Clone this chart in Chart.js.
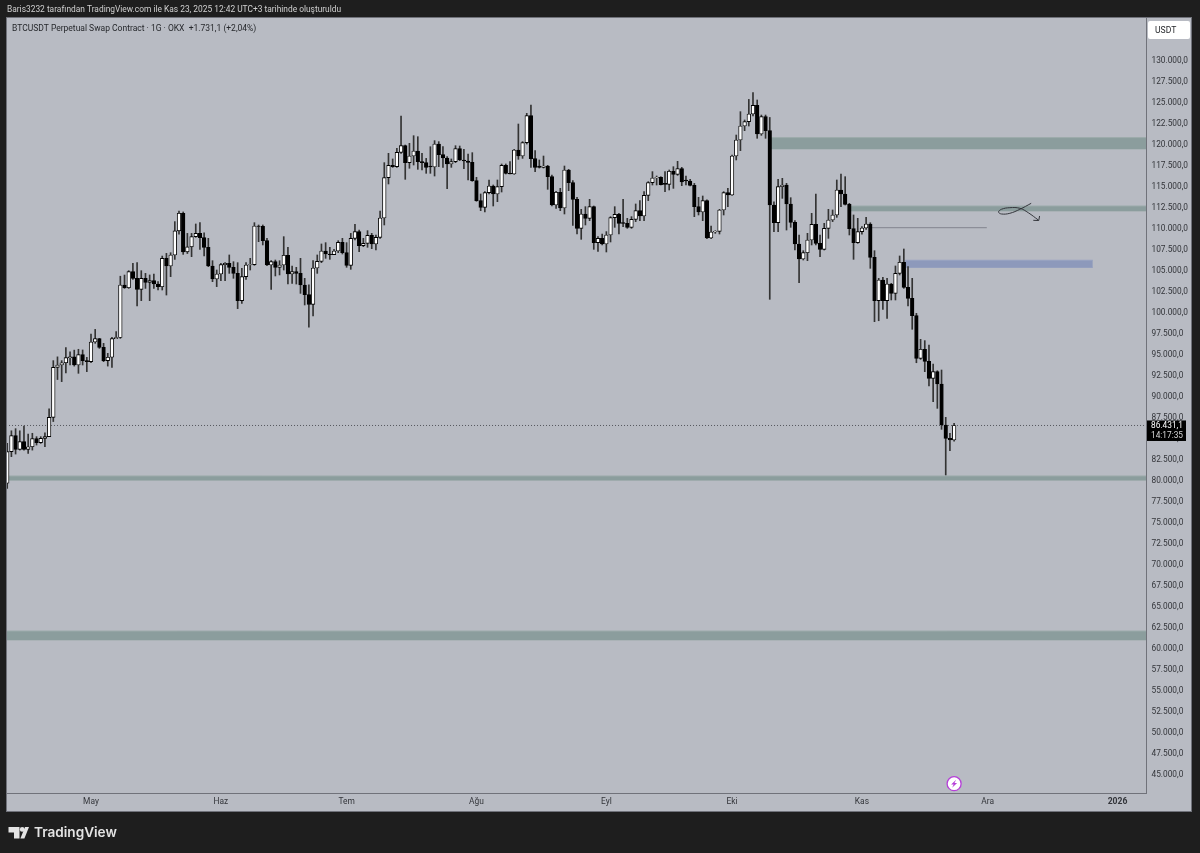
<!DOCTYPE html>
<html>
<head>
<meta charset="utf-8">
<title>BTCUSDT</title>
<script src="https://cdn.jsdelivr.net/npm/chart.js@4/dist/chart.umd.min.js"></script>
<style>
  html, body { margin: 0; padding: 0; background: #1e1e1e; overflow: hidden; }
  canvas { display: block; }
</style>
</head>
<body>
<canvas id="Chart" width="1200" height="853"></canvas>
<script>
// daily candles, first one is 20 days before May 1
const firstDay = -20;
const opens = [
  79550,83310,85220,83590,84500,83590,83900,84860,84385,84900,
  85100,87400,93350,93630,93900,94500,94600,93630,94860,94150,
  94030,96370,96770,95730,94150,94550,96770,96900,103150,102830,
  104740,103950,102640,103950,103470,103670,103270,102950,106330,105420,
  106725,109600,111700,107100,107700,108910,109300,108790,107640,105420,
  103870,104465,105575,105730,105260,104540,101290,104150,105540,105575,
  110180,110140,108430,105540,105930,105260,105540,106690,104465,104740,
  104540,103150,102000,100850,105180,105975,107200,106845,106765,107200,
  108235,107000,105500,108710,109505,107840,108115,109070,108040,108830,
  111130,115930,117400,117240,118950,119740,117720,118510,119110,117840,
  117720,117300,117200,119940,118670,118270,117560,117840,119385,118035,
  117920,117760,115575,113200,112400,114150,114940,113990,114860,117400,
  116450,116370,119225,118510,120100,123310,118200,117320,117160,117320,
  116050,112680,114190,112320,116845,115340,113355,109900,111610,111090,
  112480,108195,108710,108040,109110,111170,111570,110580,110500,110020,
  110975,112000,111370,113830,115340,115890,115970,115260,115140,116690,
  116330,117000,115655,115535,115020,112480,111850,113200,108750,109465,
  109545,112085,114150,113870,118510,120415,122080,122600,123510,124540,
  121130,123200,121530,112680,110575,114860,115060,112800,110615,108035,
  106250,107000,108510,110380,108115,107400,109900,110890,111490,114465,
  113990,112760,109860,108195,109505,109940,110415,106450,101290,103750,
  101290,103270,102160,104540,105860,102880,101570,99500,94425,95500,
  94070,92045,92835,91370,86490,84900,84700
];
const closes = [
  83310,85220,83590,84500,83590,83900,84860,84385,84900,85100,
  87400,93350,93630,93900,94500,94600,93630,94860,94150,94030,
  96370,96770,95730,94150,94550,96770,96900,103150,102830,104740,
  103950,102640,103950,103470,103670,103270,102950,106330,105420,106725,
  109600,111700,107100,107700,108910,109300,108790,107640,105420,103870,
  104465,105575,105730,105260,104540,101290,104150,105540,105575,110180,
  110140,108430,105540,105930,105260,105540,106690,104465,104740,104540,
  103150,102000,100850,105180,105975,107200,106845,106765,107200,108235,
  107000,105500,108710,109505,107840,108115,109070,108040,108830,111130,
  115930,117400,117240,118950,119740,117720,118510,119110,117840,117720,
  117160,117200,119940,118670,118270,117560,117840,119385,118035,117920,
  117760,115575,113200,112400,114150,114940,113990,114860,117400,116450,
  116370,119225,118510,120100,123310,118200,117160,117160,117320,116050,
  112680,114190,112320,116845,115340,113355,109900,111610,111090,112480,
  108195,108710,108040,109110,111170,111570,110500,110500,110020,110975,
  112000,111370,113830,115340,115890,115970,115100,115140,116690,116330,
  117000,115420,115535,115020,112480,111850,113200,108750,109465,109545,
  112085,114150,113870,118510,120415,122080,122600,123510,124540,121130,
  123200,121530,112680,110575,114860,115060,112800,110615,108035,106250,
  107000,108510,110380,108115,107400,109900,110890,111490,114465,113990,
  112760,109860,108195,109505,109940,110415,106450,101290,103750,101290,
  103270,102160,104540,105860,102880,101570,99500,94425,95500,94070,
  92045,92835,91370,86490,84900,84700,86431.1
];
const highs = [
  84300,85800,86050,85800,86370,85420,85500,85100,85100,85570,
  88400,94150,94600,94150,95700,95200,95400,95500,95420,94540,
  97320,97870,96800,96210,95020,96920,97600,104200,104340,104860,
  105730,105813,104860,104540,104350,104460,103550,106600,106920,107000,
  110700,111950,111850,109300,109300,110420,110575,109380,108710,106050,
  104940,105730,105815,106730,105930,105815,105140,105815,106330,110575,
  110300,110300,108700,106050,106130,106050,108910,107640,105420,105260,
  106330,103950,103160,106050,106730,108040,108195,107640,107400,108430,
  108710,108195,109300,110380,109700,108710,109625,109305,109110,111960,
  117720,118830,118160,119430,123270,119820,120020,120930,120810,118830,
  118230,119620,120340,120220,119620,118430,118160,119740,119700,119310,
  118750,118910,115970,113990,114265,115655,115060,115655,117560,117560,
  117840,119300,122320,120220,123590,124580,119150,118040,118510,117400,
  116250,114310,114660,117320,116925,115580,113590,112160,112480,113355,
  112560,108910,109225,109510,111290,112480,111690,113355,111090,111290,
  112800,113200,114265,115460,116650,116130,116050,116650,116845,117240,
  117880,117160,116130,115735,115250,113590,113750,113280,110180,109625,
  112160,114265,114660,118630,121010,123790,122800,125250,126050,125180,
  123390,123390,123100,113070,115735,115855,115260,113550,110810,109110,
  107240,109305,111690,113990,109110,110500,112160,112085,115655,116370,
  116050,112880,111490,111090,110100,111210,110570,107240,103950,104070,
  103950,103350,105420,106610,107440,105340,103950,99780,96690,96530,
  96010,93750,92950,93035,87400,85500,86690
];
const lows = [
  78950,82720,83030,83500,83500,83115,83500,84100,84300,83900,
  85100,86900,91900,91650,92700,93630,93500,92640,93630,92840,
  93900,96210,95610,94030,93500,93350,96770,96800,102750,102750,
  103830,100650,101290,102750,101290,102760,102560,102560,101960,104150,
  106200,109200,106800,106900,106530,108830,107400,106610,105340,103550,
  102960,103670,103670,104540,103950,100340,100970,103830,104940,105500,
  108310,107920,105460,102640,104230,104350,104940,103270,103350,103270,
  102160,100775,98120,99465,104540,105815,106330,106210,106765,107000,
  106845,105260,105020,108510,107125,107720,107640,107480,107320,108700,
  110300,115180,117160,117160,118830,115735,117050,117440,116925,116850,
  116450,116450,116130,117240,117160,114620,117160,117720,117960,117000,
  115655,115500,113120,112000,111850,113990,112560,113075,114225,116370,
  116370,116330,118115,118230,119940,117160,116650,117080,117080,114545,
  112560,112280,112000,111610,114385,110260,109225,108590,110300,110815,
  107400,107165,107920,107085,108275,110020,109225,110100,109900,109900,
  110700,110815,110815,113200,115060,115060,115060,114265,114465,114660,
  116210,114980,115060,114940,111290,111490,110815,108670,108670,109300,
  109225,111490,112480,113830,118040,119150,121530,122080,123280,120620,
  120970,120620,101450,109505,109505,113470,109700,110020,107320,103435,
  106130,106050,107920,107920,106530,107320,108710,110700,111210,112480,
  112680,109110,106210,108115,109220,109770,105140,98790,98900,100260,
  99180,101370,101370,104350,102760,100650,97880,93900,94300,92835,
  91130,89265,88470,85970,80540,83430,84550
];

// axis ticks
const monthDays = [0, 31, 61, 92, 123, 153, 184, 214, 245];
const monthLabels = ['May', 'Haz', 'Tem', 'Ağu', 'Eyl', 'Eki', 'Kas', 'Ara', '2026'];
const priceTicks = [130000,127500,125000,122500,120000,117500,115000,112500,110000,107500,105000,102500,100000,97500,95000,92500,90000,87500,85000,82500,80000,77500,75000,72500,70000,67500,65000,62500,60000,57500,55000,52500,50000,47500,45000];
const priceLabels = ['130.000,0','127.500,0','125.000,0','122.500,0','120.000,0','117.500,0','115.000,0','112.500,0','110.000,0','107.500,0','105.000,0','102.500,0','100.000,0','97.500,0','95.000,0','92.500,0','90.000,0','87.500,0','85.000,0','82.500,0','80.000,0','77.500,0','75.000,0','72.500,0','70.000,0','67.500,0','65.000,0','62.500,0','60.000,0','57.500,0','55.000,0','52.500,0','50.000,0','47.500,0','45.000,0'];
const dayMin = -20.05, dayMax = 251.8;
const priceMin = 42677, priceMax = 134941;

// drawn zones: start day, end day, top price, bottom price
const zoneStarts = [162, 181.4, 194.3, -21, -21];
const zoneEnds   = [252, 252, 239.1, 252, 252];
const zoneTops   = [120700, 112560, 106100, 80420, 61960];
const zoneBottoms = [119350, 111960, 105250, 79920, 60890];
const zoneColors = ['#8b9d9d', '#8b9d9d', '#8d99bb', '#8b9d9d', '#8b9d9d'];

// thin resistance line
const lineDays = [186.4, 213.8];
const linePrices = [109976, 109976];

// hand drawn scribble and arrow head
const scribbleDays = [224.4, 221.7, 219.3, 217.3, 216.6, 217.3, 219.3, 221.7, 223.7, 226.1];
const scribblePrices = [112880, 112170, 111690, 111610, 111845, 112170, 112360, 112285, 111760, 110890];
const arrowDays = [224.9, 226.2, 226.4];
const arrowPrices = [110855, 110830, 111370];

const lastPrice = 86431.1;
const lastPriceText = '86.431,1';
const countdownText = '14:17:35';
const headerText = 'Baris3232 tarafından TradingView.com ile Kas 23, 2025 12:42 UTC+3 tarihinde oluşturuldu';
const titleText = 'BTCUSDT Perpetual Swap Contract · 1G · OKX  +1.731,1 (+2,04%)';

const panelColor = '#b8bbc3';
const fontName = 'Roboto, "Liberation Sans", sans-serif';

const bodies = opens.map((o, i) => ({ x: firstDay + i, y: [o, closes[i]] }));
const wicks = lows.map((l, i) => ({ x: firstDay + i, y: [l, highs[i]] }));
const bodyColors = opens.map((o, i) => closes[i] >= o ? '#ffffff' : '#000000');

const datasets = [];
zoneStarts.forEach((s, i) => {
  const edge = { type: 'line', pointRadius: 0, borderWidth: 1, tension: 0, order: 5 };
  datasets.push({ ...edge, data: [{ x: s, y: zoneTops[i] }, { x: zoneEnds[i], y: zoneTops[i] }], fill: '+1', backgroundColor: zoneColors[i], borderColor: i == 2 ? '#98a3c1' : '#9dabab' });
  datasets.push({ ...edge, data: [{ x: s, y: zoneBottoms[i] }, { x: zoneEnds[i], y: zoneBottoms[i] }], fill: false, borderColor: i == 2 ? '#98a3c1' : '#9dabab' });
});
datasets.push({ type: 'line', data: lineDays.map((d, i) => ({ x: d, y: linePrices[i] })), borderColor: '#8c8e98', borderWidth: 1.3, pointRadius: 0, order: 4 });
datasets.push({ type: 'line', data: [{ x: -21, y: lastPrice }, { x: 252, y: lastPrice }], borderColor: '#55575e', borderWidth: 1, borderDash: [1, 2], pointRadius: 0, order: 4 });
datasets.push({ type: 'line', data: scribbleDays.map((d, i) => ({ x: d, y: scribblePrices[i] })), borderColor: '#34363c', borderWidth: 1, pointRadius: 0, tension: 0.4, order: 0 });
datasets.push({ type: 'line', data: arrowDays.map((d, i) => ({ x: d, y: arrowPrices[i] })), borderColor: '#34363c', borderWidth: 1, pointRadius: 0, order: 0 });
datasets.push({ type: 'bar', data: wicks, backgroundColor: '#333333', barThickness: 1, grouped: false, order: 3 });
datasets.push({ type: 'bar', data: bodies, backgroundColor: bodyColors, borderColor: '#000000', borderWidth: 0.9, borderSkipped: false, barThickness: 3.6, grouped: false, order: 2 });

// panel behind the plot, with both axis strips
const panel = {
  id: 'panel',
  beforeDraw(chart) {
    const ctx = chart.ctx, a = chart.chartArea;
    const right = chart.scales.y.right, bottom = chart.scales.x.bottom;
    ctx.save();
    ctx.fillStyle = panelColor;
    ctx.fillRect(a.left, a.top, right - a.left, bottom - a.top);
    ctx.strokeStyle = '#70727a';
    ctx.lineWidth = 1;
    ctx.strokeRect(a.left - 0.5, a.top - 0.5, right - a.left + 1, bottom - a.top + 1);
    ctx.restore();
  }
};

// texts and badges that sit on top of the chart
const overlay = {
  id: 'overlay',
  afterDraw(chart) {
    const ctx = chart.ctx, y = chart.scales.y, x = chart.scales.x;
    ctx.save();
    ctx.textBaseline = 'middle';
    ctx.textAlign = 'left';

    ctx.font = '8.4px ' + fontName;
    ctx.fillStyle = '#d0d0d0';
    ctx.fillText(headerText, 7, 10);
    ctx.fillStyle = '#26282c';
    ctx.font = '8.5px ' + fontName;
    ctx.fillText(titleText, 12, 29);

    // currency button
    ctx.fillStyle = '#ffffff';
    ctx.beginPath();
    ctx.roundRect(1148, 21, 42, 18, 2);
    ctx.fill();
    ctx.fillStyle = '#26282c';
    ctx.font = '8.6px ' + fontName;
    ctx.fillText('USDT', 1155, 30.5);

    // last price label
    const py = y.getPixelForValue(lastPrice);
    ctx.fillStyle = '#000000';
    ctx.fillRect(1147, py - 5, 39, 20.5);
    ctx.textAlign = 'center';
    ctx.font = '8.3px ' + fontName;
    ctx.fillStyle = '#ffffff';
    ctx.fillText(lastPriceText, 1167, py + 0.5);
    ctx.fillStyle = '#d8d8d8';
    ctx.fillText(countdownText, 1167, py + 10.5);

    // purple lightning badge under the last candle
    const bx = x.getPixelForValue(firstDay + opens.length - 1), by = 783.7;
    ctx.beginPath();
    ctx.arc(bx, by, 7, 0, Math.PI * 2);
    ctx.fillStyle = '#ffffff';
    ctx.fill();
    ctx.strokeStyle = '#b63fd8';
    ctx.lineWidth = 1.3;
    ctx.stroke();
    ctx.fillStyle = '#b63fd8';
    ctx.beginPath();
    ctx.moveTo(bx + 2, by - 4);
    ctx.lineTo(bx - 3, by + 0.8);
    ctx.lineTo(bx - 0.4, by + 0.8);
    ctx.lineTo(bx - 2, by + 4);
    ctx.lineTo(bx + 3, by - 0.8);
    ctx.lineTo(bx + 0.4, by - 0.8);
    ctx.closePath();
    ctx.fill();

    // TradingView logo
    ctx.fillStyle = '#e4e4e4';
    ctx.beginPath();
    ctx.moveTo(8.5, 827);
    ctx.lineTo(19.5, 827);
    ctx.lineTo(19.5, 838.5);
    ctx.lineTo(14, 838.5);
    ctx.lineTo(14, 832.5);
    ctx.lineTo(8.5, 832.5);
    ctx.closePath();
    ctx.fill();
    ctx.beginPath();
    ctx.arc(22.2, 829.4, 2.4, 0, Math.PI * 2);
    ctx.fill();
    ctx.beginPath();
    ctx.moveTo(29, 827);
    ctx.lineTo(24.4, 838.5);
    ctx.lineTo(20.4, 838.5);
    ctx.lineTo(25, 827);
    ctx.closePath();
    ctx.fill();
    ctx.textAlign = 'left';
    ctx.font = '600 13.6px Inter, Roboto, sans-serif';
    ctx.fillText('TradingView', 34, 832.5);
    ctx.restore();
  }
};

const ctx = document.getElementById('Chart').getContext('2d');
const myChart = new Chart(ctx, {
  type: 'bar',
  data: { datasets: datasets },
  plugins: [panel, overlay],
  options: {
    responsive: false,
    animation: false,
    devicePixelRatio: 1,
    layout: { padding: { left: 7, top: 18, right: 9, bottom: 42 } },
    plugins: { legend: { display: false }, tooltip: { enabled: false }, title: { display: false } },
    scales: {
      x: {
        type: 'linear',
        min: dayMin,
        max: dayMax,
        offset: false,
        grid: { display: false, drawTicks: false },
        border: { display: true, color: '#70727a' },
        afterBuildTicks: s => { s.ticks = monthDays.map(v => ({ value: v })); },
        afterFit: s => { s.height = 18; },
        ticks: {
          autoSkip: false,
          maxRotation: 0,
          padding: 4,
          color: '#33353a',
          font: c => c.tick && c.tick.value === 245 ? { family: fontName, size: 8.6, weight: 'bold' } : { family: fontName, size: 8.4 },
          callback: v => monthLabels[monthDays.indexOf(v)]
        }
      },
      y: {
        position: 'right',
        min: priceMin,
        max: priceMax,
        grid: { display: false, drawTicks: false },
        border: { display: true, color: '#70727a' },
        afterBuildTicks: s => { s.ticks = priceTicks.map(v => ({ value: v })); },
        afterFit: s => { s.width = 45; },
        ticks: {
          autoSkip: false,
          padding: 5.5,
          crossAlign: 'near',
          labelOffset: 1,
          color: '#33353a',
          font: { family: fontName, size: 8.3 },
          callback: v => priceLabels[priceTicks.indexOf(v)]
        }
      }
    }
  }
});
</script>
</body>
</html>
